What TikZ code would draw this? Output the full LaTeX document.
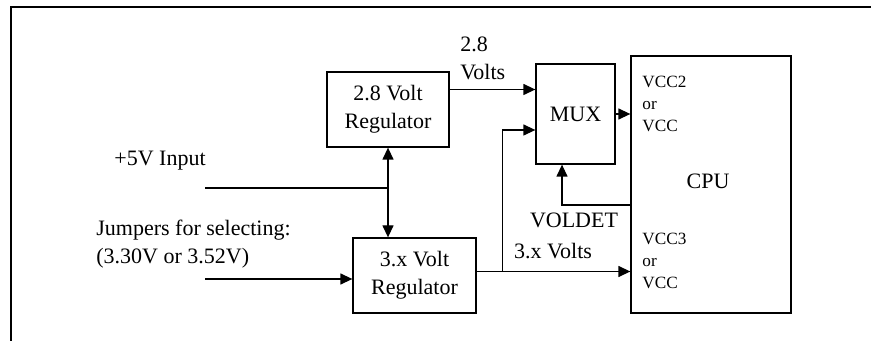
\documentclass[tikz,border=0pt]{standalone}
\usepackage{fontspec}
\setmainfont{Liberation Serif}
\usepackage{tikz}
\usetikzlibrary{arrows.meta,positioning}

\begin{document}
\begin{tikzpicture}[
  x=0.5pt, y=-0.5pt,
  every node/.style={font=\fontsize{11}{14}\selectfont},
  block/.style={draw, line width=0.65pt, inner sep=0pt, align=center},
  label/.style={inner sep=0pt, align=left},
  pins/.style={inner sep=0pt, align=left, font=\fontsize{8.6}{11}\selectfont},
  link/.style={-{Triangle[length=6pt,width=5.5pt]}, line width=0.65pt},
  wire/.style={line width=0.65pt}
]
\useasboundingbox (0,0) rectangle (871,341);
\draw[line width=0.85pt] (11,341) -- (11,7) -- (871,7);
% blocks
\node[block, minimum width=61pt, minimum height=37.5pt] (reg28) at (388,109.5)
  {2.8 Volt\\Regulator};
\node[block, minimum width=61.5pt, minimum height=37.5pt] (reg3x) at (414.5,275.5)
  {3.x Volt\\Regulator};
\node[block, minimum width=39.5pt, minimum height=50pt] (mux) at (575.5,114) {MUX};
\node[block, minimum width=80pt, minimum height=128.5pt] (cpu) at (711,184.5) {};
\node[label] (cpulbl) at (708,181) {CPU};
\node[pins, anchor=west] (vcc2) at (642,104) {VCC2\\or\\VCC};
\node[pins, anchor=west] (vcc3) at (642,261) {VCC3\\or\\VCC};
% inputs
\node[label] (in5) at (160,161) {+5V Input};
\node[label, anchor=west] (jmp) at (96,244)
  {Jumpers for selecting:\\(3.30V or 3.52V)};
\coordinate (p5) at (205,188);
\coordinate (pj) at (205,279);
\coordinate (j5) at (reg28.south |- p5);
\draw[wire] (p5) -- (j5);
\draw[link] (j5) -- (reg28.south);
\draw[link] (j5) -- (j5 |- reg3x.north);
\draw[link] (pj) -- (pj -| reg3x.west);
% outputs
\node[label, anchor=west] (v28) at (460,58) {2.8\\Volts};
\node[label] (v3x) at (553,251) {3.x Volts};
\node[label] (voldet) at (574,220) {VOLDET};
\draw[link] ([yshift=10pt]reg28.east) -- ([yshift=10pt]reg28.east -| mux.west);
\coordinate (br) at ([xshift=13pt,yshift=2pt]reg3x.east);
\draw[link] ([yshift=2pt]reg3x.east) -- ([yshift=2pt]reg3x.east -| cpu.west);
\draw[link] (br) |- ([yshift=-8pt]mux.west);
\draw[link] (mux.east) -- (mux.east -| cpu.west);
\draw[link] ([yshift=-10.25pt]cpu.west) -| ([xshift=-6.75pt]mux.south);
\end{tikzpicture}
\end{document}
